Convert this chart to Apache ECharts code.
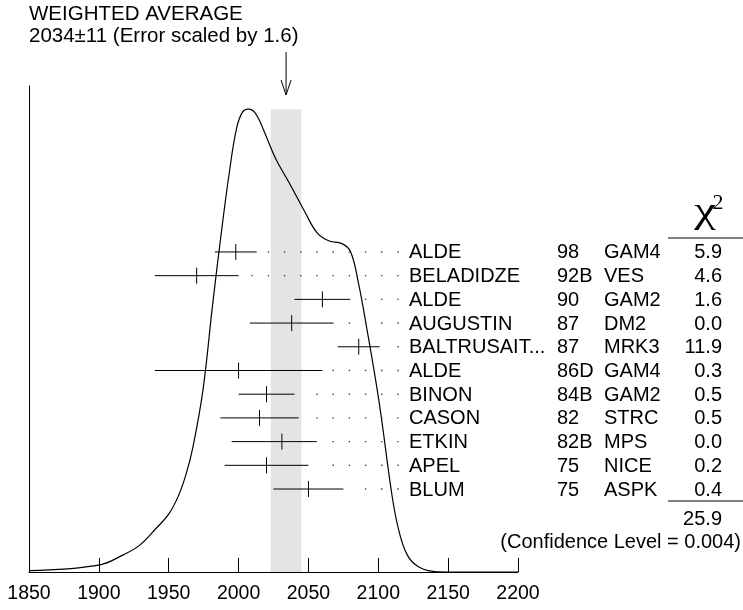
<!DOCTYPE html>
<html>
<head>
<meta charset="utf-8">
<script src="https://cdn.jsdelivr.net/npm/echarts@6/dist/echarts.min.js"></script>
<style>
  html, body { margin: 0; padding: 0; background: #fff; }
  #main { width: 743px; height: 610px; }
</style>
</head>
<body>
<div id="main"></div>
<script>
// weighted average and its (scaled) error
var avg = 2034;
var avgErr = 11;

// measurements, top to bottom
var names = ['ALDE', 'BELADIDZE', 'ALDE', 'AUGUSTIN', 'BALTRUSAIT...', 'ALDE', 'BINON', 'CASON', 'ETKIN', 'APEL', 'BLUM'];
var years = ['98', '92B', '90', '87', '87', '86D', '84B', '82', '82B', '75', '75'];
var techs = ['GAM4', 'VES', 'GAM2', 'DM2', 'MRK3', 'GAM4', 'GAM2', 'STRC', 'MPS', 'NICE', 'ASPK'];
var values = [1998, 1970, 2060, 2038, 2086, 2000, 2020, 2015, 2031, 2020, 2050];
var errLo = [15, 30, 20, 30, 15, 60, 20, 28, 36, 30, 25];
var errHi = [15, 30, 20, 30, 15, 60, 20, 28, 25, 30, 25];
var chi2 = ['5.9', '4.6', '1.6', '0.0', '11.9', '0.3', '0.5', '0.5', '0.0', '0.2', '0.4'];
var chi2Total = '25.9';
var confLevel = '0.004';

// ideogram curve (relative height, peak = 1)
var curveX = [1850, 1900, 1917.4, 1929.3, 1941.2, 1950, 1957, 1962.6, 1967.4, 1974.5, 1981.4, 1987.9, 1993.6, 1998.6, 2002.9, 2007.1,
  2012.1, 2017.9, 2026.4, 2036.4, 2047.1, 2056.4, 2065, 2073.6, 2080, 2085.7, 2091.4, 2100.7, 2110, 2115,
  2120.7, 2127.9, 2137.9, 2149.3, 2200];
var curveY = [0.003, 0.015, 0.037, 0.058, 0.095, 0.125, 0.165, 0.213, 0.271, 0.393, 0.577, 0.739, 0.868, 0.959, 0.994, 1.0,
  0.991, 0.955, 0.894, 0.84, 0.78, 0.732, 0.715, 0.71, 0.693, 0.626, 0.533, 0.365, 0.162, 0.086,
  0.037, 0.013, 0.002, 0.0, 0.0];

var FONT = '"Liberation Sans", Arial, Helvetica, sans-serif';
var SERIF = '"Liberation Serif", "DejaVu Serif", serif';
var chart = echarts.init(document.getElementById('main'));

function renderRow(params, api) {
    var i = params.dataIndex;
    var left = api.coord([api.value(0), api.value(3)]);
    var right = api.coord([api.value(1), api.value(3)]);
    var mid = api.coord([api.value(2), api.value(3)]);
    var y = mid[1];
    var kids = [
        { type: 'line', shape: { x1: left[0], y1: y, x2: right[0], y2: y }, style: { stroke: '#000', lineWidth: 1 } },
        { type: 'line', shape: { x1: mid[0], y1: y - 8, x2: mid[0], y2: y + 8 }, style: { stroke: '#000', lineWidth: 1 } }
    ];
    // dotted leader to the label
    for (var k = 0; k < 12; k++) {
        var dx = 398 - k * 16.2;
        if (dx > right[0] + 10) {
            kids.push({ type: 'rect', shape: { x: dx - 0.7, y: y - 0.7, width: 1.4, height: 1.4 }, style: { fill: '#444' } });
        }
    }
    var txt = function (s, x, align) {
        return { type: 'text', style: { text: s, x: x, y: y + 1, align: align, verticalAlign: 'middle',
            fontSize: 20, fontFamily: FONT, fill: '#000' } };
    };
    kids.push(txt(names[i], 409, 'left'));
    kids.push(txt(years[i], 557, 'left'));
    kids.push(txt(techs[i], 604, 'left'));
    kids.push(txt(chi2[i], 722, 'right'));
    return { type: 'group', children: kids };
}

var option = {
    animation: false,
    grid: { left: 29, right: 225, top: 86, bottom: 38 },
    xAxis: {
        type: 'value', min: 1850, max: 2200, interval: 50,
        axisLine: { onZero: false, lineStyle: { color: '#000', width: 1 } },
        axisTick: { inside: true, length: 14, lineStyle: { color: '#000', width: 1 } },
        axisLabel: { color: '#000', fontSize: 19.5, fontFamily: FONT, margin: 12,
            formatter: function (v) { return String(v); } },
        splitLine: { show: false }
    },
    yAxis: [
        {
            type: 'value', min: 0, max: 1.05,
            axisLine: { show: true, lineStyle: { color: '#000', width: 1 } },
            axisTick: { show: false }, axisLabel: { show: false }, splitLine: { show: false }
        },
        { type: 'value', min: -7, max: 13.5, inverse: true, show: false }
    ],
    series: [
        {
            type: 'line',
            data: curveX.map(function (x, i) { return [x, curveY[i]]; }),
            smooth: 0.4,
            showSymbol: false,
            lineStyle: { color: '#000', width: 1.2 },
            z: 3,
            markArea: {
                silent: true,
                itemStyle: { color: '#e4e4e4' },
                data: [[{ xAxis: avg - avgErr, yAxis: 0 }, { xAxis: avg + avgErr, yAxis: 1.0 }]]
            }
        },
        {
            type: 'custom',
            yAxisIndex: 1,
            clip: false,
            z: 4,
            renderItem: renderRow,
            data: values.map(function (v, i) { return [v - errLo[i], v + errHi[i], v, i]; })
        }
    ]
};
chart.setOption(option);

// arrow and side texts
var ax = chart.convertToPixel({ xAxisIndex: 0 }, avg);
var t = function (s, x, y, align, size, fam) {
    return { type: 'text', style: { text: s, x: x, y: y, align: align, verticalAlign: 'middle',
        fontSize: size || 20, fontFamily: fam || FONT, fill: '#000' } };
};
chart.setOption({
    graphic: [
        t('WEIGHTED AVERAGE', 29, 14, 'left', 20.5),
        t(avg + '\u00b1' + avgErr + ' (Error scaled by 1.6)', 29, 36, 'left', 20.5),
        { type: 'line', shape: { x1: ax, y1: 52, x2: ax, y2: 95 }, style: { stroke: '#000', lineWidth: 1 } },
        { type: 'polyline', shape: { points: [[ax - 5, 80], [ax, 95], [ax + 5, 80]] }, style: { stroke: '#000', lineWidth: 1, fill: null } },
        {
            type: 'text', x: 705, y: 213, scaleX: 1.35,
            style: { text: '\u03c7', x: 0, y: 0, align: 'center', verticalAlign: 'middle', fontSize: 36, fontFamily: SERIF, fill: '#000' }
        },
        t('2', 718, 203.5, 'center', 22, SERIF),
        { type: 'line', shape: { x1: 668, y1: 238, x2: 743, y2: 238 }, style: { stroke: '#000', lineWidth: 1 } },
        { type: 'line', shape: { x1: 668, y1: 501, x2: 743, y2: 501 }, style: { stroke: '#000', lineWidth: 1 } },
        t(chi2Total, 722, 519, 'right'),
        t('(Confidence Level = ' + confLevel + ')', 741, 542, 'right')
    ]
});
</script>
</body>
</html>
